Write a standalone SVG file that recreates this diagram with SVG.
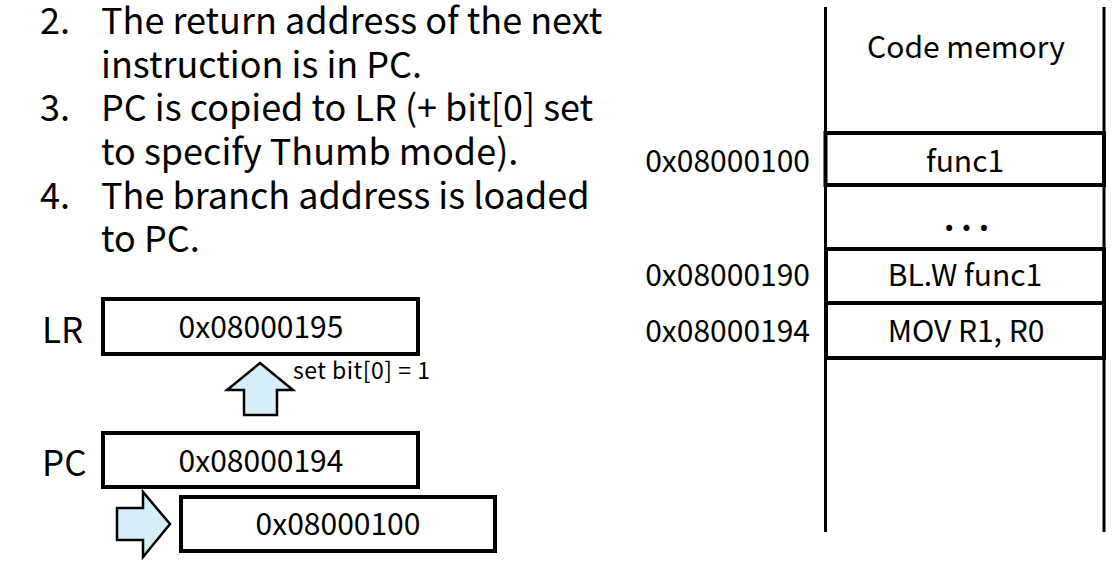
<svg xmlns="http://www.w3.org/2000/svg" width="1116" height="568" viewBox="0 0 1116 568">
<style>
text{font-family:"Noto Sans CJK JP","Noto Sans",sans-serif;fill:#000}
.big{font-size:36px}
.lbl{font-size:35px}
.val{font-size:30px}
.mid{text-anchor:middle}
.end{text-anchor:end}
.small{font-size:23px;letter-spacing:0.5px}
.box{fill:#fff;stroke:#000;stroke-width:4}
.thin{stroke:#000;stroke-width:3;fill:none}
.arr{fill:#D6EEF9;stroke:#000;stroke-width:2.5;stroke-linejoin:miter}
</style>
<rect width="1116" height="568" fill="#fff"/>
<g id="steps" class="big">
<text x="40" y="34">2.</text><text x="101" y="34">The return address of the next</text>
<text x="101" y="77.5">instruction is in PC.</text>
<text x="40" y="121">3.</text><text x="101" y="121">PC is copied to LR (+ bit[0] set</text>
<text x="101" y="165">to specify Thumb mode).</text>
<text x="40" y="208.5">4.</text><text x="101" y="208.5">The branch address is loaded</text>
<text x="101" y="252">to PC.</text>
</g>
<g id="lr">
<text class="lbl" x="42" y="343">LR</text>
<rect class="box" x="103" y="299" width="315" height="55"/>
<text class="val mid" x="261" y="338">0x08000195</text>
</g>
<g id="pc">
<text class="lbl" x="42" y="476">PC</text>
<rect class="box" x="103" y="433" width="315" height="54"/>
<text class="val mid" x="261" y="472">0x08000194</text>
</g>
<g id="target">
<rect class="box" x="181" y="497" width="314" height="54"/>
<text class="val mid" x="338" y="535">0x08000100</text>
</g>
<g id="connectors">
<path class="arr" d="M260,363 L293,390 L277,390 L277,415 L244,415 L244,390 L227,390 Z"/>
<text class="small" x="293" y="379">set bit[0] = 1</text>
<path class="arr" d="M170,524 L143,492 L143,508 L117,508 L117,540 L143,540 L143,557 Z"/>
</g>
<g id="memory">
<line class="thin" x1="825.5" y1="7" x2="825.5" y2="532"/>
<line class="thin" x1="1104" y1="7" x2="1104" y2="532"/>
<text class="val mid" x="966" y="58">Code memory</text>
</g>
<g id="func1">
<rect class="box" x="825.5" y="133" width="278.5" height="52"/>
<text class="val mid" x="965" y="172">func1</text>
<text class="val end" x="810" y="172">0x08000100</text>
</g>
<g id="dots">
<text class="val mid" x="970" y="231" style="letter-spacing:7px;font-weight:bold;font-size:32px">...</text>
</g>
<g id="blw">
<rect class="box" x="826" y="249" width="278" height="54"/>
<text class="val mid" x="965" y="286">BL.W func1</text>
<text class="val end" x="810" y="286">0x08000190</text>
</g>
<g id="mov">
<rect class="box" x="826" y="303" width="278" height="55"/>
<text class="val mid" x="966" y="342">MOV R1, R0</text>
<text class="val end" x="810" y="342">0x08000194</text>
</g>
</svg>
